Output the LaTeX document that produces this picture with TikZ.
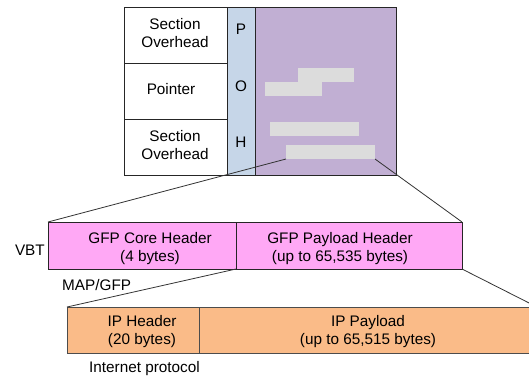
\documentclass[tikz,border=0pt]{standalone}
\usepackage{fontspec}
\setmainfont{Liberation Sans}
\definecolor{purp}{RGB}{193,175,211}
\definecolor{pohblue}{RGB}{198,214,232}
\definecolor{pinkb}{RGB}{255,168,245}
\definecolor{orangeb}{RGB}{250,187,136}
\definecolor{barg}{RGB}{220,220,220}
\begin{document}
\begin{tikzpicture}[x=1pt,y=-1pt,
  box/.style={draw=black!85,line width=0.8pt,inner sep=0pt,outer sep=0pt,anchor=north west},
  bar/.style={fill=barg,inner sep=0pt,outer sep=0pt,anchor=north west,minimum height=14pt},
  lbl/.style={inner sep=0pt,align=center,font=\fontsize{15.3}{18}\selectfont},
  conn/.style={draw=black!80,line width=0.8pt}]
\useasboundingbox (0,0) rectangle (529,381);
% top block
\node[box,minimum width=103pt,minimum height=56pt] (so1) at (124,7) {};
\node[box,minimum width=103pt,minimum height=56pt] (ptr) at (124,63) {};
\node[box,minimum width=103pt,minimum height=56pt] (so2) at (124,119) {};
\node[box,fill=pohblue,minimum width=28pt,minimum height=168pt] (poh) at (227,7) {};
\node[box,fill=purp,minimum width=141pt,minimum height=168pt] (pay) at (255,7) {};
\node[lbl] (t1) at (175,33) {Section\\Overhead};
\node[lbl] (t2) at (171,89) {Pointer};
\node[lbl] (t3) at (175,145) {Section\\Overhead};
\node[lbl] (pp) at (241,29) {P};
\node[lbl] (po) at (241,86) {O};
\node[lbl] (ph) at (241,142) {H};
\node[bar,minimum width=56pt] (b1) at (298,68) {};
\node[bar,minimum width=57pt] (b2) at (265,82) {};
\node[bar,minimum width=89pt] (b3) at (270,122) {};
\node[bar,minimum width=89pt] (b4) at (286,145) {};
% VBT
\node[box,fill=pinkb,minimum width=188pt,minimum height=47pt] (core) at (48,222) {};
\node[box,fill=pinkb,minimum width=226pt,minimum height=47pt] (gpay) at (236,222) {};
\node[lbl] (t4) at (150,249) {GFP Core Header\\(4 bytes)};
\node[lbl] (t5) at (340,249) {GFP Payload Header\\(up to 65,535 bytes)};
\node[lbl,anchor=east] (vbt) at (45,250) {VBT};
\node[lbl,anchor=west] (map) at (62,285) {MAP/GFP};
% IP
\node[box,fill=orangeb,draw=black!70,minimum width=132pt,minimum height=46pt] (iph) at (67,307) {};
\node[box,fill=orangeb,draw=black!70,minimum width=338pt,minimum height=46pt] (ipp) at (199,307) {};
\node[lbl] (t6) at (142,332) {IP Header\\(20 bytes)};
\node[lbl] (t7) at (368,332) {IP Payload\\(up to 65,515 bytes)};
\node[lbl,anchor=west] (inet) at (89,369) {Internet protocol};
% connectors
\draw[conn] (b4.south west) -- (core.north west);
\draw[conn] (b4.south east) -- (gpay.north east);
\draw[conn] (core.south east) -- (iph.north west);
\draw[conn] (gpay.south east) -- (ipp.north east);
\end{tikzpicture}
\end{document}
